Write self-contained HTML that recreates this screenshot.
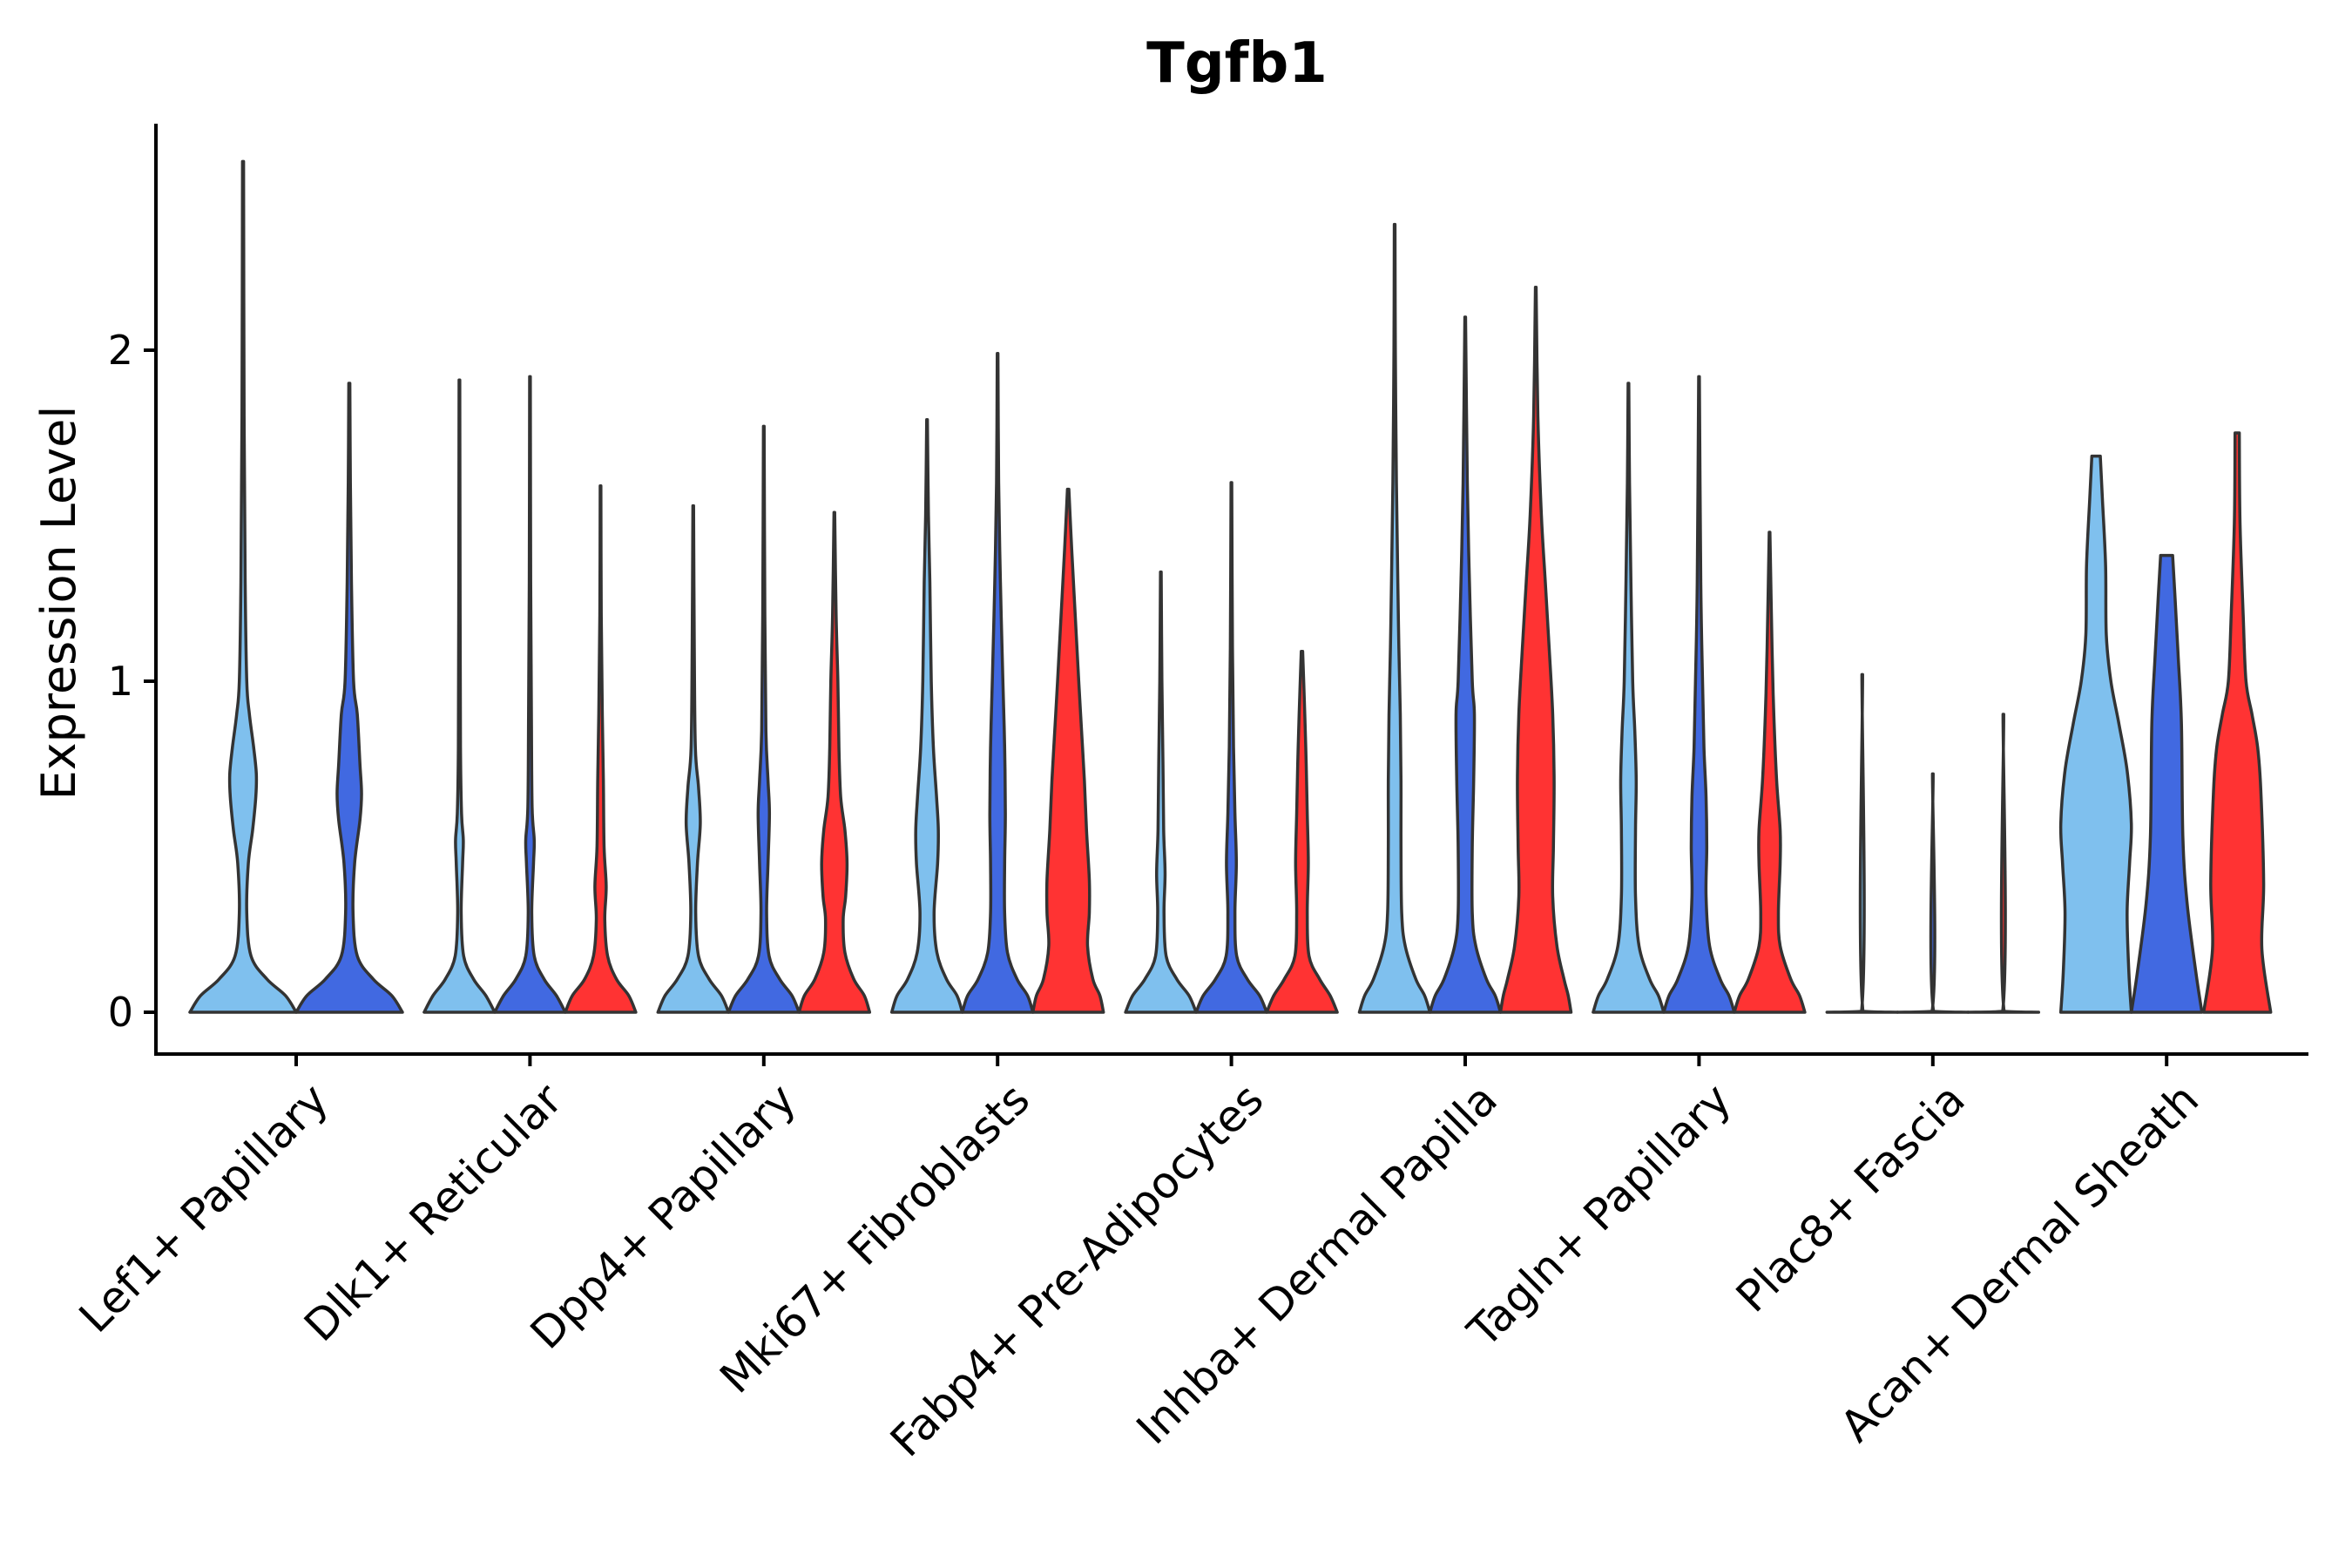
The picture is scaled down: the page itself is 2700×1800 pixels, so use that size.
<!DOCTYPE html>
<html><head><meta charset="utf-8"><style>
body{margin:0;background:#fff;}
svg{display:block;font-family:"DejaVu Sans","Liberation Sans",sans-serif;}
</style></head><body>
<svg id="chart" width="2700" height="1800" viewBox="0 0 2700 1800">
<text x="1420" y="94" font-size="64" font-weight="bold" text-anchor="middle">Tgfb1</text>
<text transform="translate(86,692) rotate(-90)" font-size="54" text-anchor="middle">Expression Level</text>
<g id="violins"></g>
<g id="axes"></g>
</svg>
<script>
const categories=["Lef1+ Papillary","Dlk1+ Reticular","Dpp4+ Papillary","Mki67+ Fibroblasts","Fabp4+ Pre-Adipocytes","Inhba+ Dermal Papilla","Tagln+ Papillary","Plac8+ Fascia","Acan+ Dermal Sheath"];
const yTicks=[0,1,2];
const seriesColors=["#7fc0ee","#4169e1","#ff3333"];
// each violin: [category index, series index, [[y, relative half-width], ...]]
const violinData=[
[0,0,[[0,1],[0.05,0.8],[0.1,0.45],[0.17,0.15],[0.3,0.07],[0.45,0.1],[0.55,0.18],[0.65,0.24],[0.72,0.25],[0.8,0.2],[0.9,0.12],[1.0,0.07],[1.3,0.04],[1.8,0.02],[2.57,0.01]]],
[0,1,[[0,1],[0.05,0.8],[0.1,0.45],[0.17,0.15],[0.3,0.07],[0.45,0.1],[0.58,0.2],[0.66,0.23],[0.75,0.2],[0.9,0.15],[1.0,0.08],[1.3,0.04],[1.6,0.02],[1.9,0.01]]],
[1,0,[[0,1],[0.05,0.75],[0.1,0.4],[0.17,0.12],[0.3,0.05],[0.45,0.09],[0.52,0.11],[0.6,0.06],[0.8,0.03],[1.2,0.02],[1.91,0.01]]],
[1,1,[[0,1],[0.05,0.75],[0.1,0.4],[0.17,0.12],[0.3,0.05],[0.45,0.1],[0.52,0.12],[0.62,0.06],[0.9,0.04],[1.3,0.02],[1.92,0.01]]],
[1,2,[[0,1],[0.05,0.8],[0.1,0.45],[0.17,0.2],[0.28,0.12],[0.38,0.16],[0.5,0.1],[0.7,0.08],[0.9,0.05],[1.2,0.02],[1.59,0.01]]],
[2,0,[[0,1],[0.05,0.8],[0.1,0.45],[0.17,0.15],[0.3,0.07],[0.45,0.12],[0.57,0.2],[0.68,0.15],[0.8,0.06],[1.1,0.03],[1.53,0.01]]],
[2,1,[[0,1],[0.05,0.8],[0.1,0.45],[0.17,0.15],[0.3,0.08],[0.45,0.12],[0.6,0.16],[0.7,0.12],[0.85,0.06],[1.2,0.03],[1.77,0.01]]],
[2,2,[[0,1],[0.05,0.85],[0.1,0.55],[0.18,0.3],[0.28,0.25],[0.35,0.32],[0.45,0.36],[0.55,0.3],[0.65,0.18],[0.8,0.13],[1.0,0.1],[1.2,0.05],[1.51,0.01]]],
[3,0,[[0,1],[0.05,0.85],[0.1,0.55],[0.18,0.28],[0.3,0.2],[0.45,0.3],[0.55,0.32],[0.65,0.27],[0.8,0.18],[1.0,0.12],[1.3,0.08],[1.5,0.04],[1.79,0.01]]],
[3,1,[[0,1],[0.05,0.85],[0.1,0.55],[0.18,0.28],[0.3,0.2],[0.45,0.2],[0.6,0.22],[0.8,0.2],[1.0,0.15],[1.3,0.08],[1.6,0.03],[1.99,0.01]]],
[3,2,[[0,1],[0.05,0.9],[0.1,0.7],[0.2,0.55],[0.3,0.6],[0.4,0.6],[0.55,0.52],[0.7,0.46],[0.85,0.38],[1.0,0.3],[1.2,0.2],[1.4,0.1],[1.58,0.02]]],
[4,0,[[0,1],[0.05,0.8],[0.1,0.45],[0.17,0.15],[0.3,0.09],[0.42,0.12],[0.55,0.08],[0.75,0.06],[1.0,0.03],[1.33,0.01]]],
[4,1,[[0,1],[0.05,0.8],[0.1,0.45],[0.17,0.15],[0.3,0.1],[0.45,0.14],[0.6,0.1],[0.8,0.06],[1.1,0.03],[1.6,0.01]]],
[4,2,[[0,1],[0.05,0.8],[0.1,0.5],[0.17,0.2],[0.3,0.15],[0.45,0.18],[0.6,0.15],[0.75,0.12],[0.9,0.08],[1.09,0.02]]],
[5,0,[[0,1],[0.05,0.85],[0.1,0.6],[0.2,0.3],[0.3,0.2],[0.5,0.18],[0.7,0.18],[0.9,0.16],[1.1,0.12],[1.3,0.09],[1.6,0.05],[2.0,0.02],[2.38,0.01]]],
[5,1,[[0,1],[0.05,0.85],[0.1,0.6],[0.2,0.3],[0.3,0.2],[0.5,0.2],[0.7,0.24],[0.9,0.26],[1.0,0.2],[1.3,0.12],[1.6,0.06],[2.1,0.01]]],
[5,2,[[0,1],[0.05,0.92],[0.1,0.8],[0.2,0.6],[0.35,0.48],[0.5,0.5],[0.7,0.52],[0.9,0.48],[1.1,0.38],[1.3,0.27],[1.5,0.16],[1.8,0.06],[2.19,0.01]]],
[6,0,[[0,1],[0.05,0.85],[0.1,0.6],[0.2,0.3],[0.35,0.2],[0.55,0.2],[0.7,0.22],[0.85,0.18],[1.0,0.12],[1.3,0.07],[1.6,0.03],[1.9,0.01]]],
[6,1,[[0,1],[0.05,0.85],[0.1,0.6],[0.2,0.3],[0.35,0.2],[0.5,0.22],[0.65,0.2],[0.8,0.14],[1.0,0.1],[1.3,0.05],[1.92,0.01]]],
[6,2,[[0,1],[0.05,0.85],[0.1,0.6],[0.2,0.3],[0.3,0.25],[0.45,0.3],[0.55,0.3],[0.7,0.2],[0.9,0.12],[1.1,0.07],[1.45,0.01]]],
[7,0,[[0,1],[0.003,0.02],[1.02,0.01]]],
[7,1,[[0,1],[0.003,0.02],[0.72,0.01]]],
[7,2,[[0,1],[0.003,0.02],[0.9,0.01]]],
[8,0,[[0,1],[0.12,0.93],[0.3,0.88],[0.45,0.95],[0.57,1.0],[0.73,0.88],[0.87,0.65],[1.0,0.42],[1.14,0.29],[1.35,0.27],[1.55,0.18],[1.68,0.12]]],
[8,1,[[0,1],[0.12,0.83],[0.33,0.58],[0.53,0.46],[0.87,0.42],[1.07,0.33],[1.25,0.24],[1.38,0.17]]],
[8,2,[[0,0.95],[0.19,0.7],[0.39,0.75],[0.67,0.67],[0.8,0.58],[0.9,0.42],[1.0,0.25],[1.2,0.17],[1.48,0.08],[1.75,0.06]]]
];
const NS="http://www.w3.org/2000/svg";
const X0=179,X1=2650,Y0px=1162,PPU=380,AXY=1210,TOP=142,C0=340,STEP=268.4,SLOT=81;
function yScale(v){return Y0px-v*PPU;}
function xScale(i){return C0+i*STEP;}
function nSeries(ci){let n=0;violinData.forEach(d=>{if(d[0]===ci)n++;});return n;}
function clamp(v,a,b){const lo=Math.min(a,b),hi=Math.max(a,b);return Math.max(lo,Math.min(hi,v));}
function smooth(pts){let d="M"+pts[0][0]+","+pts[0][1];for(let i=0;i<pts.length-1;i++){const p0=pts[i-1]||pts[i],p1=pts[i],p2=pts[i+1],p3=pts[i+2]||p2;const c1=[p1[0]+(p2[0]-p0[0])/6,clamp(p1[1]+(p2[1]-p0[1])/6,p1[1],p2[1])],c2=[p2[0]-(p3[0]-p1[0])/6,clamp(p2[1]-(p3[1]-p1[1])/6,p1[1],p2[1])];d+=" C"+c1[0]+","+c1[1]+" "+c2[0]+","+c2[1]+" "+p2[0]+","+p2[1];}return d;}
const vg=document.getElementById("violins");
violinData.forEach(d=>{
 const ci=d[0],si=d[1],prof=d[2];const n=nSeries(ci);
 const w=n===2?122:SLOT;const cx=n===2?xScale(ci)+(si-0.5)*w:xScale(ci)+(si-1)*w;
 const hw=w/2;
 const right=prof.map(p=>[cx+p[1]*hw,yScale(p[0])]);
 const left=prof.slice().reverse().map(p=>[cx-p[1]*hw,yScale(p[0])]);
 let path=smooth(right);const top=prof[prof.length-1];
 path+=" L"+(cx-top[1]*hw)+","+yScale(top[0]);
 path+=smooth(left).replace(/^M[^ ]+/,"")+" Z";
 const el=document.createElementNS(NS,"path");
 el.setAttribute("d",path);el.setAttribute("fill",seriesColors[si]);el.setAttribute("stroke","#333");el.setAttribute("stroke-width","3.5");el.setAttribute("stroke-linejoin","round");
 
 
 vg.appendChild(el);
});
const ag=document.getElementById("axes");
function line(x1,y1,x2,y2){const l=document.createElementNS(NS,"line");l.setAttribute("x1",x1);l.setAttribute("y1",y1);l.setAttribute("x2",x2);l.setAttribute("y2",y2);l.setAttribute("stroke","#000");l.setAttribute("stroke-width","4");ag.appendChild(l);return l;}
const xa=line(X0,AXY,X1,AXY);


const ya=line(X0,TOP,X0,AXY+2);


yTicks.forEach(v=>{
 const t=line(X0-14,yScale(v),X0,yScale(v));
 
 
 const tx=document.createElementNS(NS,"text");tx.setAttribute("x",X0-26);tx.setAttribute("y",yScale(v)+16);tx.setAttribute("font-size","46");tx.setAttribute("text-anchor","end");tx.textContent=v;
 
 
 ag.appendChild(tx);
});
categories.forEach((c,i)=>{
 const x=xScale(i);
 const t=line(x,AXY,x,AXY+14);
 
 
 const tx=document.createElementNS(NS,"text");
 tx.setAttribute("transform","translate("+(x+14)+","+(AXY+30)+") rotate(-45)");
 tx.setAttribute("font-size","50");tx.setAttribute("text-anchor","end");tx.setAttribute("dy","0.72em");tx.textContent=c;
 
 
 ag.appendChild(tx);
});
</script>
</body></html>
